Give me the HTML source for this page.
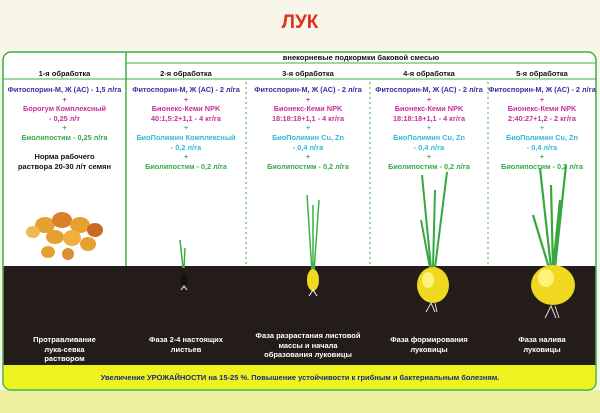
<!DOCTYPE html>
<html><head><meta charset="utf-8"><style>
body{margin:0;width:600px;height:413px;overflow:hidden;background:#f7f6e8;font-family:"Liberation Sans",sans-serif;}
.t{position:absolute;font-weight:bold;text-align:center;font-size:7.3px;line-height:9.6px;white-space:nowrap}
.p{color:#3a2fa0}.m{color:#c8309a}.c{color:#34b8d8}.g{color:#3aa84a}.k{color:#111}.w{color:#fff}
</style></head><body>
<svg width="600" height="413" style="position:absolute;left:0;top:0">
<rect x="0" y="390" width="600" height="23" fill="#eef0a0"/>
<rect x="3" y="52" width="593" height="338" rx="8" fill="#fff" stroke="#3cb043" stroke-width="1.5"/>
<rect x="3.7" y="266" width="591.6" height="100" fill="#231c18"/>
<path d="M3.7 365 H595.3 V382 Q595 389 588 389 H11 Q4 389 3.7 382Z" fill="#eef21e"/>
<line x1="126" y1="63" x2="596" y2="63" stroke="#3cb043"/>
<line x1="3" y1="79" x2="596" y2="79" stroke="#3cb043"/>
<line x1="126" y1="52" x2="126" y2="266" stroke="#3cb043" stroke-width="1.5"/>
<g stroke="#3cb043" stroke-dasharray="2,3"><line x1="246" y1="82" x2="246" y2="266"/><line x1="370" y1="82" x2="370" y2="266"/><line x1="488" y1="82" x2="488" y2="266"/></g>
<g fill="#e6a030">
<ellipse cx="45" cy="225" rx="10" ry="8"/><ellipse cx="62" cy="220" rx="10" ry="8" fill="#d8802a"/><ellipse cx="80" cy="225" rx="10" ry="8"/><ellipse cx="95" cy="230" rx="8" ry="7" fill="#c86a20"/><ellipse cx="55" cy="237" rx="9" ry="7"/><ellipse cx="72" cy="238" rx="9" ry="8" fill="#f0b040"/><ellipse cx="88" cy="244" rx="8" ry="7"/><ellipse cx="48" cy="252" rx="7" ry="6"/><ellipse cx="68" cy="254" rx="6" ry="6" fill="#d89030"/><ellipse cx="33" cy="232" rx="7" ry="6" fill="#f0b850"/>
</g>
<path d="M183 268 L180 240 M184 268 L185 248" stroke="#3cb043" stroke-width="1.5" fill="none"/>
<ellipse cx="184" cy="280" rx="3" ry="7" fill="#111"/><path d="M181 290l3-4 3 4" stroke="#fff" fill="none"/>
<path d="M312 272 L307 195 M313 272 L313 205 M314 272 L319 200" stroke="#3cb043" stroke-width="1.5" fill="none"/>
<ellipse cx="313" cy="280" rx="6" ry="11" fill="#f0d820"/><path d="M309 296l4-6 4 6" stroke="#fff" fill="none"/>
<path d="M431 268 L422 175 M433 268 L435 190 M435 268 L447 172 M430 268 L421 220" stroke="#36a83e" stroke-width="2" fill="none"/>
<ellipse cx="433" cy="285" rx="16" ry="18" fill="#f0d820"/><ellipse cx="428" cy="280" rx="6" ry="8" fill="#fff27a"/>
<path d="M426 312l5-9 4 9 M437 312l-2-9" stroke="#ddd" fill="none"/>
<path d="M551 268 L540 168 M553 268 L551 185 M555 268 L566 165 M549 268 L533 215 M553 268 L560 200" stroke="#36a83e" stroke-width="2.2" fill="none"/>
<ellipse cx="553" cy="285" rx="22" ry="20" fill="#f0d820"/><ellipse cx="546" cy="278" rx="8" ry="9" fill="#fff27a"/>
<path d="M545 318l6-12 5 12 M559 318l-4-12" stroke="#ddd" fill="none"/>
</svg>
<div class="t" style="left:0;width:600px;top:12px;font-size:19px;line-height:22px;color:#e0301e">ЛУК</div>
<div class="t k" style="left:126px;width:470px;top:53px;font-size:7.5px">внекорневые подкормки баковой смесью</div>
<div class="t k" style="left:3px;width:123px;top:69px;font-size:7.5px">1-я обработка</div>
<div class="t k" style="left:126px;width:120px;top:69px;font-size:7.5px">2-я обработка</div>
<div class="t k" style="left:246px;width:124px;top:69px;font-size:7.5px">3-я обработка</div>
<div class="t k" style="left:370px;width:118px;top:69px;font-size:7.5px">4-я обработка</div>
<div class="t k" style="left:488px;width:108px;top:69px;font-size:7.5px">5-я обработка</div>
<div class="t" style="left:3px;width:123px;top:85px"><span class="p">Фитоспорин-М, Ж (АС) - 1,5 л/га</span><br><span class="m">+<br>Борогум Комплексный<br>- 0,25 л/т</span><br><span class="g">+<br>Биолипостим - 0,25 л/га</span><br><br><span class="k" style="font-size:7.5px">Норма рабочего<br>раствора 20-30 л/т семян</span></div>
<div class="t" style="left:126px;width:120px;top:85px"><span class="p">Фитоспорин-М, Ж (АС) - 2 л/га</span><br><span class="m">+<br>Бионекс-Кеми NPK<br>40:1,5:2+1,1 - 4 кг/га</span><br><span class="c">+<br>БиоПолимин Комплексный<br>- 0,2 л/га</span><br><span class="g">+<br>Биолипостим - 0,2 л/га</span></div>
<div class="t" style="left:246px;width:124px;top:85px"><span class="p">Фитоспорин-М, Ж (АС) - 2 л/га</span><br><span class="m">+<br>Бионекс-Кеми NPK<br>18:18:18+1,1 - 4 кг/га</span><br><span class="c">+<br>БиоПолимин Cu, Zn<br>- 0,4 л/га</span><br><span class="g">+<br>Биолипостим - 0,2 л/га</span></div>
<div class="t" style="left:370px;width:118px;top:85px"><span class="p">Фитоспорин-М, Ж (АС) - 2 л/га</span><br><span class="m">+<br>Бионекс-Кеми NPK<br>18:18:18+1,1 - 4 кг/га</span><br><span class="c">+<br>БиоПолимин Cu, Zn<br>- 0,4 л/га</span><br><span class="g">+<br>Биолипостим - 0,2 л/га</span></div>
<div class="t" style="left:488px;width:108px;top:85px"><span class="p">Фитоспорин-М, Ж (АС) - 2 л/га</span><br><span class="m">+<br>Бионекс-Кеми NPK<br>2:40:27+1,2 - 2 кг/га</span><br><span class="c">+<br>БиоПолимин Cu, Zn<br>- 0,4 л/га</span><br><span class="g">+<br>Биолипостим - 0,2 л/га</span></div>
<div class="t w" style="left:3px;width:123px;top:335px;font-size:7.5px">Протравливание<br>лука-севка<br>раствором</div>
<div class="t w" style="left:126px;width:120px;top:335px;font-size:7.5px">Фаза 2-4 настоящих<br>листьев</div>
<div class="t w" style="left:246px;width:124px;top:331px;font-size:7.5px">Фаза разрастания листовой<br>массы и начала<br>образования луковицы</div>
<div class="t w" style="left:370px;width:118px;top:335px;font-size:7.5px">Фаза формирования<br>луковицы</div>
<div class="t w" style="left:488px;width:108px;top:335px;font-size:7.5px">Фаза налива<br>луковицы</div>
<div class="t" style="left:0;width:600px;top:373px;font-size:7.5px;color:#1a2a80">Увеличение УРОЖАЙНОСТИ на 15-25 %. Повышение устойчивости к грибным и бактериальным болезням.</div>
</body></html>
